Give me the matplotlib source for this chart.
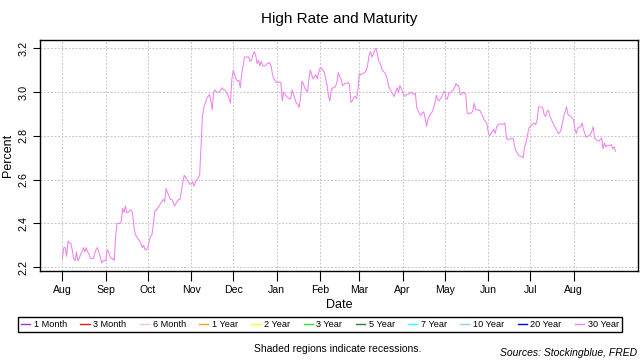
import numpy as np
import pandas as pd
import matplotlib
matplotlib.use('Agg')
import matplotlib.pyplot as plt
import matplotlib.dates as mdates
from matplotlib.lines import Line2D

plt.rcParams['font.family'] = ['Liberation Sans', 'DejaVu Sans']

months = pd.date_range('2018-08-01', '2019-08-01', freq='MS')
aug18 = [2.24, 2.29, 2.29, 2.25, 2.32, 2.31, 2.31, 2.28, 2.24, 2.23, 2.27, 2.23, 2.24, 2.26, 2.27, 2.29,
         2.27, 2.29, 2.27, 2.26, 2.24, 2.24, 2.24, 2.26, 2.28, 2.29, 2.27, 2.25, 2.22, 2.23, 2.23]
sep18 = [2.23, 2.28, 2.27, 2.25, 2.24, 2.24, 2.23, 2.34, 2.40, 2.40, 2.40, 2.41, 2.47, 2.45, 2.48, 2.45,
         2.45, 2.46, 2.46, 2.45, 2.39, 2.35, 2.34, 2.33, 2.32, 2.31, 2.29, 2.30, 2.28, 2.28]
oct18 = [2.29, 2.32, 2.34, 2.35, 2.40, 2.46, 2.46, 2.47, 2.48, 2.49, 2.50, 2.51, 2.50, 2.56, 2.54, 2.53,
         2.51, 2.51, 2.50, 2.48, 2.49, 2.50, 2.51, 2.51, 2.55, 2.59, 2.62, 2.61, 2.60, 2.59, 2.58]
nov18 = [2.58, 2.59, 2.57, 2.59, 2.60, 2.61, 2.62, 2.75, 2.89, 2.93, 2.95, 2.97, 2.98, 2.99, 2.96, 2.92,
         3.00, 3.01, 3.00, 3.00, 3.00, 3.01, 3.02, 3.01, 3.01, 3.00, 2.99, 2.97, 2.95, 3.06]
dec18 = [3.10, 3.08, 3.06, 3.05, 3.055, 3.02, 3.08, 3.12, 3.16, 3.16, 3.16, 3.16, 3.14, 3.145, 3.17, 3.185,
         3.17, 3.13, 3.145, 3.12, 3.14, 3.12, 3.12, 3.12, 3.13, 3.13, 3.135, 3.12, 3.08, 3.06, 3.05]
jan19 = [3.044, 3.045, 3.045, 3.044, 2.96, 3.00, 2.99, 2.98, 2.975, 2.97, 2.97, 3.01, 2.99, 2.97, 2.95, 2.945,
         2.93, 2.97, 3.05, 3.04, 3.02, 3.01, 3.00, 3.06, 3.10, 3.08, 3.06, 3.07, 3.08, 3.06, 3.09]
feb19 = [3.11, 3.11, 3.10, 3.09, 3.06, 3.03, 2.98, 2.96, 3.01, 3.02, 3.02, 3.026, 3.044, 3.09, 3.07, 3.06,
         3.03, 3.035, 3.04, 3.04, 3.044, 3.035, 2.953, 2.96, 2.976, 2.98, 2.97, 3.01]
mar19 = [3.086, 3.08, 3.082, 3.086, 3.09, 3.10, 3.124, 3.17, 3.185, 3.16, 3.175, 3.19, 3.20, 3.17, 3.14, 3.13,
         3.106, 3.095, 3.09, 3.08, 3.056, 3.026, 3.014, 3.00, 2.99, 2.98, 3.00, 3.02, 2.997, 3.03, 3.014]
apr19 = [3.00, 2.98, 2.985, 2.99, 2.99, 2.995, 3.00, 2.995, 2.99, 2.995, 2.93, 2.915, 2.90, 2.895, 2.905, 2.91,
         2.88, 2.844, 2.875, 2.89, 2.90, 2.91, 2.927, 2.95, 2.985, 2.967, 2.96, 2.97, 2.98, 3.00]
may19 = [3.003, 2.97, 2.97, 2.998, 2.997, 3.003, 3.01, 3.02, 3.04, 3.03, 3.03, 2.988, 2.99, 3.00, 2.995, 2.99,
         2.905, 2.902, 2.904, 2.905, 2.912, 2.95, 2.92, 2.92, 2.917, 2.917, 2.905, 2.892, 2.874, 2.867, 2.859]
jun19 = [2.82, 2.80, 2.81, 2.82, 2.83, 2.811, 2.84, 2.851, 2.854, 2.854, 2.854, 2.854, 2.859, 2.79, 2.783, 2.785,
         2.786, 2.79, 2.786, 2.75, 2.73, 2.72, 2.71, 2.708, 2.705, 2.70, 2.75, 2.768, 2.80, 2.832]
jul19 = [2.844, 2.848, 2.856, 2.858, 2.852, 2.874, 2.932, 2.932, 2.932, 2.927, 2.897, 2.889, 2.912, 2.917, 2.892, 2.877,
         2.862, 2.85, 2.836, 2.826, 2.811, 2.814, 2.826, 2.859, 2.889, 2.912, 2.932, 2.897, 2.892, 2.892, 2.882]
aug19 = [2.874, 2.829, 2.811, 2.836, 2.841, 2.841, 2.859, 2.832, 2.811, 2.793, 2.80, 2.80, 2.806, 2.821, 2.841, 2.791,
         2.783, 2.779, 2.776, 2.783, 2.791, 2.741, 2.768, 2.75, 2.756, 2.756, 2.756, 2.761, 2.741, 2.75, 2.73]
monthly = [aug18, sep18, oct18, nov18, dec18, jan19, feb19, mar19, apr19, may19, jun19, jul19, aug19]

series = ['1 Month', '3 Month', '6 Month', '1 Year', '2 Year', '3 Year',
          '5 Year', '7 Year', '10 Year', '20 Year', '30 Year']
colors = ['#9933cc', '#e41a1c', '#ffc0cb', '#f5a020', '#ffff33', '#33dd33',
          '#2e7d32', '#33ffff', '#99ccee', '#0000cc', '#ee82ee']

dates = []
values = []
for m, vals in zip(months, monthly):
    offs = np.linspace(0, m.days_in_month - 1, len(vals))
    dates.extend(m + pd.to_timedelta(offs, unit='D'))
    values.extend(vals)
dates = pd.DatetimeIndex(dates)

fig = plt.figure(figsize=(6.4, 3.6), dpi=100)
ax = fig.add_axes([40/640, 1 - 271/360, 598/640, 231/360])

ax.plot(dates, values, color=colors[-1], lw=0.75)

ax.set_xlim(pd.Timestamp('2018-07-16'), pd.Timestamp('2019-09-16'))
ax.set_ylim(2.183, 3.238)
ax.set_xticks(months)
ax.xaxis.set_major_formatter(mdates.DateFormatter('%b'))
ax.set_yticks([2.2, 2.4, 2.6, 2.8, 3.0, 3.2])
ax.set_yticklabels(['2.2', '2.4', '2.6', '2.8', '3.0', '3.2'], rotation=90, va='center')
ax.tick_params(axis='x', length=7, width=0.8, pad=3, labelsize=7.6)
ax.tick_params(axis='y', length=5, width=0.8, pad=3, labelsize=7.8)
ax.grid(True, color='#c8c8c8', linestyle=(0, (2.0, 1.6)), linewidth=0.7)
for s in ax.spines.values():
    s.set_linewidth(1.0)
    s.set_color('black')

ax.set_title('High Rate and Maturity', fontsize=11, pad=12)
ax.set_xlabel('Date', fontsize=9)
ax.xaxis.set_label_coords(0.5, -0.147)
ax.xaxis.label.set_va('center')
ax.set_ylabel('Percent', fontsize=9)
ax.yaxis.set_label_coords(-0.0535, 0.5)
ax.yaxis.label.set_va('center')

handles = [Line2D([], [], color=c, lw=1.0) for c in colors]
leg = fig.legend(handles, series, ncol=11, loc='center',
                 bbox_to_anchor=(320/640, 1 - 324.7/360), fontsize=6.6,
                 handlelength=1.0, handletextpad=0.4, columnspacing=1.45,
                 borderpad=0.3, fancybox=False, edgecolor='black', framealpha=1)
leg.get_frame().set_linewidth(1.0)

fig.text(338/640, 1 - 349/360, 'Shaded regions indicate recessions.',
         ha='center', va='center', fontsize=7.5)
fig.text(637/640, 1 - 353/360, 'Sources: Stockingblue, FRED',
         ha='right', va='center', fontsize=7.5, style='italic')

fig.savefig('out.png', dpi=100)
